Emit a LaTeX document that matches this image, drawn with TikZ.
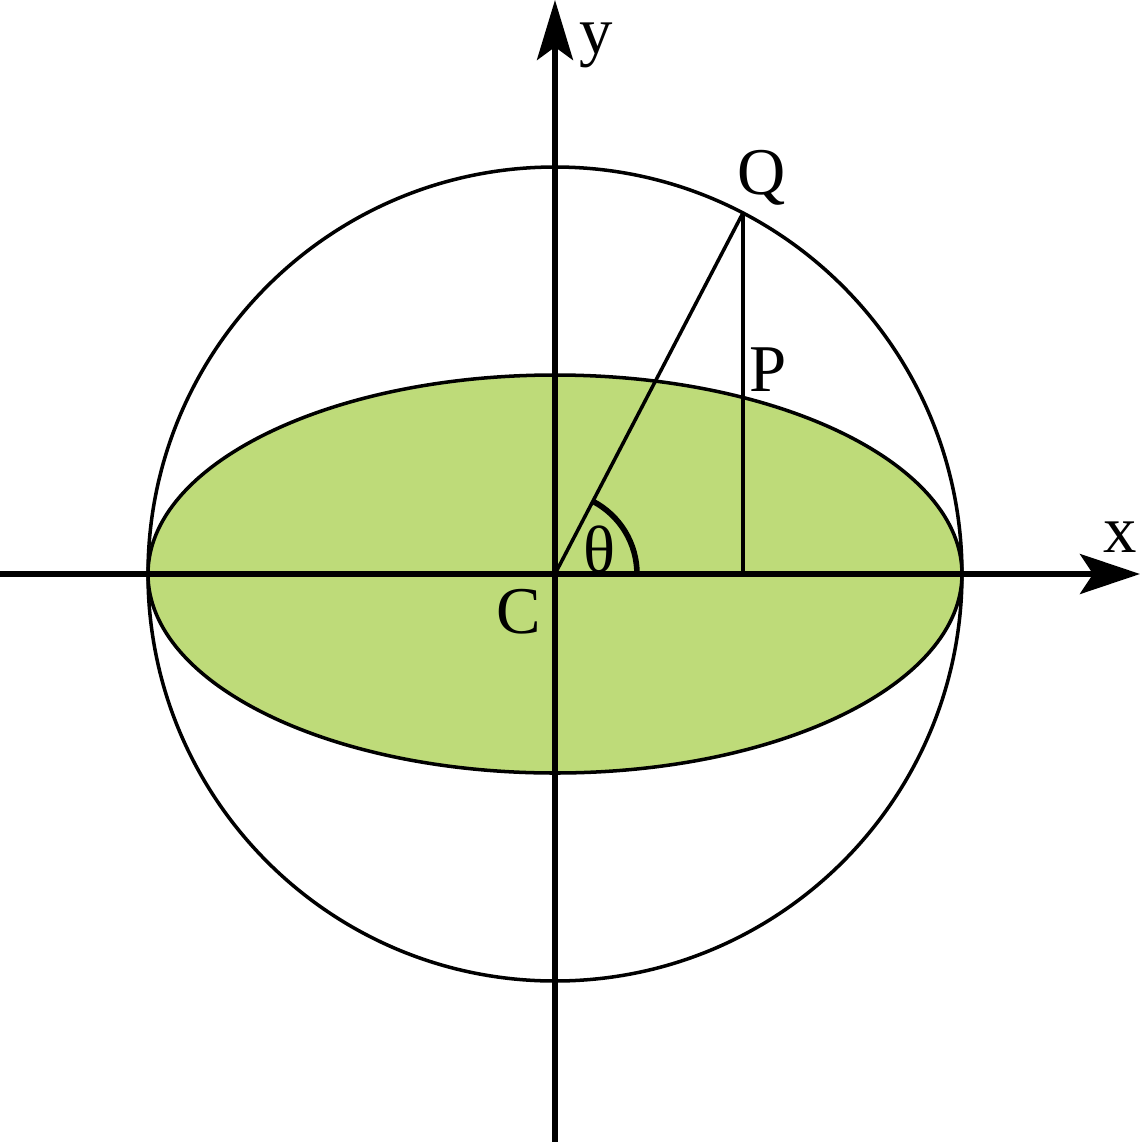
\documentclass[tikz,border=0pt]{standalone}
\usepackage{fontspec}
\setmainfont{Liberation Serif}
\definecolor{ellgreen}{RGB}{190, 219, 121}
\usetikzlibrary{arrows.meta, calc}

\begin{document}
\begin{tikzpicture}
  \useasboundingbox (-5.55, -5.68) rectangle (5.87, 5.74);
  \tikzset{lbl/.style={font=\fontsize{19}{21}\selectfont, inner sep=0pt}}

  % Centre, point on the circle and its foot
  \coordinate (C) at (0, 0);
  \coordinate (Q) at (62.5:4.07);
  \coordinate (F) at (Q |- C);
  \coordinate (xl) at (-5.55, 0);
  \coordinate (xr) at (5.85, 0);
  \coordinate (yb) at (0, -5.68);
  \coordinate (yt) at (0, 5.74);

  % Ellipse and auxiliary circle
  \draw[fill=ellgreen, line width=1pt] (C) ellipse [x radius=4.07, y radius=1.99];
  \draw[line width=1pt] (C) circle [radius=4.07];

  % Axes
  \draw[line width=1.5pt, -{Stealth[length=0.6cm, width=0.4cm, inset=0.13cm]}] (xl) -- (xr);
  \draw[line width=1.5pt, -{Stealth[length=0.6cm, width=0.36cm, inset=0.13cm]}] (yb) -- (yt);

  % Radius and ordinate
  \draw[line width=1pt] (C) -- (Q);
  \draw[line width=1pt] (Q) -- (F);

  % Angle
  \draw[line width=1.6pt] (0.82, 0) arc [start angle=0, end angle=62.5, radius=0.82];

  % Labels
  \node[lbl] (lQ) at (2.07, 3.96) {Q};
  \node[lbl] (lP) at (2.13, 2.04) {P};
  \node[lbl] (lC) at (-0.36, -0.38) {C};
  \node[lbl] (lth) at (0.45, 0.25) {θ};
  \node[lbl] (lx) at (5.65, 0.37) {x};
  \node[lbl] (ly) at (0.41, 5.29) {y};
\end{tikzpicture}
\end{document}
